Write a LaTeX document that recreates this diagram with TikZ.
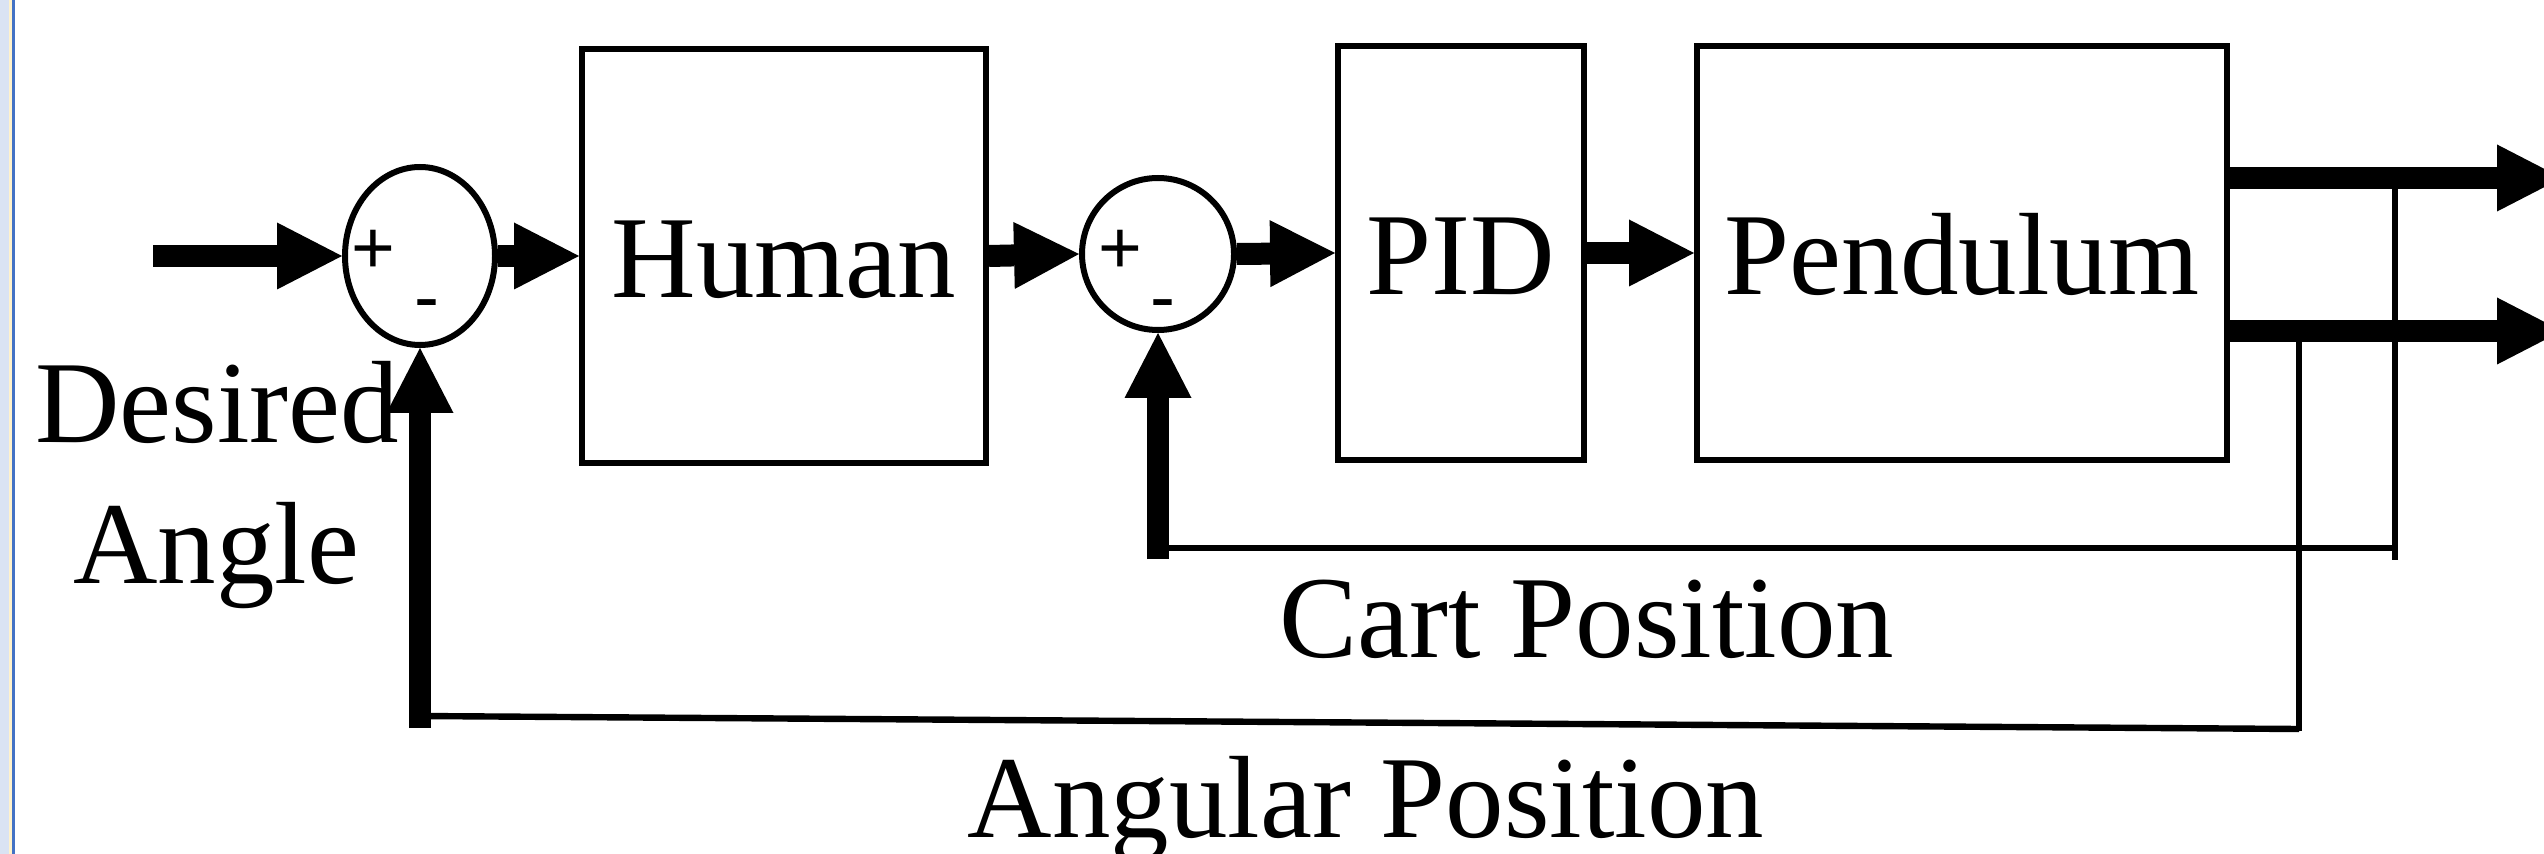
\documentclass[tikz,border=0pt]{standalone}
\usepackage{fontspec}
\setmainfont{Liberation Serif}
\newfontfamily\pmfont{Liberation Sans}
\usetikzlibrary{arrows.meta,shapes.geometric}
\definecolor{stripblue}{HTML}{DAE3F3}
\definecolor{stripline}{HTML}{4472C4}
\definecolor{stripcream}{HTML}{FFF2CC}
\begin{document}
\begin{tikzpicture}[x=0.25pt,y=-0.25pt,
  blk/.style={draw, line width=1.5pt, rectangle, minimum height=103.5pt, inner sep=0pt, text height=21pt, text depth=0pt, font=\fontsize{29.25}{35}\selectfont},
  sumnode/.style={draw, line width=1.5pt, inner sep=0pt},
  sig/.style={line width=5.5pt, -{Triangle[length=16.25pt,width=16.75pt,line width=0pt]}},
  fb/.style={line width=1.6pt},
  lbl/.style={font=\fontsize{29.25}{35}\selectfont, inner sep=0pt, anchor=base},
  pm/.style={font=\pmfont\fontsize{18.75}{20}\selectfont, inner sep=0pt}
]
\clip (0,0) rectangle (2544,854);
\fill[white] (0,0) rectangle (2544,854);
\fill[stripblue] (0,0) rectangle (9,854);
\fill[stripcream] (9,0) rectangle (12,854);
\fill[stripline] (12,0) rectangle (15,854);

% blocks
\node[sumnode, ellipse, minimum width=37.5pt, minimum height=44.5pt] (sum1) at (420,256) {};
\node[pm] (p1) at (373,252) {+};
\node[pm] (m1) at (427,311) {-};
\node[blk, minimum width=101pt] (human) at (784,256) {Human};
\node[sumnode, circle, minimum size=38pt] (sum2) at (1158,254) {};
\node[pm] (p2) at (1120,252) {+};
\node[pm] (m2) at (1163,311) {-};
\node[blk, minimum width=61.5pt] (pid) at (1461,253) {PID};
\node[blk, minimum width=132.5pt] (pend) at (1962,253) {Pendulum};

% coordinates
\coordinate (in) at (153,256);
\coordinate (o1) at (2562,178);
\coordinate (o2) at (2562,331);
\coordinate (ctap) at (2395,178);
\coordinate (cbot) at (2395,560);
\coordinate (ccorner) at (2395,548);
\coordinate (cfb) at (1158,559);
\coordinate (atap) at (2299,331);
\coordinate (abot) at (2299,731);
\coordinate (aend) at (2299,729);
\coordinate (afbl) at (420,716);
\coordinate (afb) at (420,728);

% forward path
\draw[sig] (in) -- (sum1.west);
\draw[sig] (sum1.east) -- (human.west);
\draw[sig] (human.east) -- (sum2.west);
\draw[sig] (sum2.east) -- (pid.west);
\draw[sig] (pid.east) -- (pend.west);
\draw[sig] (pend.east |- o1) -- (o1);
\draw[sig] (pend.east |- o2) -- (o2);

% feedback
\draw[fb] (ctap) -- (cbot);
\draw[fb] (ccorner) -- (cfb |- ccorner);
\draw[sig] (cfb) -- (sum2.south);
\draw[fb] (atap) -- (abot);
\draw[fb] (aend) -- (afbl);
\draw[sig] (afb) -- (sum1.south);

% labels
\node[lbl] (desired) at (217,442) {Desired};
\node[lbl] (angle) at (216,583) {Angle};
\node[lbl] (cartpos) at (1587,657) {Cart Position};
\node[lbl] (angpos) at (1366,837) {Angular Position};
\end{tikzpicture}
\end{document}
